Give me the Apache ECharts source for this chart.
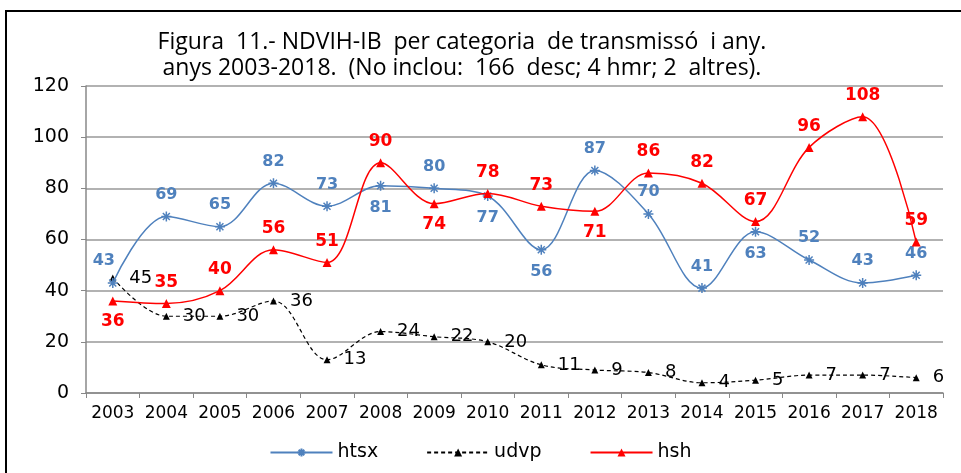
<!DOCTYPE html>
<html><head><meta charset="utf-8">
<script src="https://cdn.jsdelivr.net/npm/echarts@6/dist/echarts.min.js"></script>
<style>html,body{margin:0;padding:0;background:#fff}#c{width:961px;height:473px}</style>
</head><body><div id="c"></div>
<script>
const years = ['2003','2004','2005','2006','2007','2008','2009','2010','2011','2012','2013','2014','2015','2016','2017','2018'];
const htsx = [43,69,65,82,73,81,80,77,56,87,70,41,63,52,43,46];
const udvp = [45,30,30,36,13,24,22,20,11,9,8,4,5,7,7,6];
const hsh  = [36,35,40,56,51,90,74,78,73,71,86,82,67,96,108,59];
const htsxLabelPos = ['top','top','top','top','top','bottom','top','bottom','bottom','top','top','top','bottom','top','top','top'];
const hshLabelPos  = ['bottom','top','top','top','top','top','bottom','top','top','bottom','top','top','top','top','top','top'];
const yTicks = {min:0, max:120, interval:20};

const BLUE = '#4F81BD', RED = '#FF0000';
function mk(vals, pos, extra) {
  return vals.map((v, i) => {
    const d = {value: v, label: {position: pos[i]}};
    if (extra && extra[i]) Object.assign(d.label, extra[i]);
    return d;
  });
}
const htsxExtra = {0: {offset: [-9, 0]}};
const chart = echarts.init(document.getElementById('c'));
chart.setOption({
  animation: false,
  graphic: [{type:'rect', shape:{x:6,y:11,width:1000,height:1000}, style:{fill:'none', stroke:'#000', lineWidth:2}, z:-1}],
  title: {
    text: 'Figura  11.- NDVIH-IB  per categoria  de transmissó  i any.\nanys 2003-2018.  (No inclou:  166  desc; 4 hmr; 2  altres).',
    left: 457, top: 24, textAlign: 'center',
    textStyle: {fontFamily: 'Open Sans', fontSize: 23, fontWeight: 'normal', color: '#000', lineHeight: 26}
  },
  legend: {
    bottom: 6, left: 'center', itemGap: 48, itemWidth: 62, itemHeight: 10,
    textStyle: {fontFamily: 'DejaVu Sans', fontSize: 19, color: '#000'},
    data: ['htsx','udvp','hsh']
  },
  grid: {left: 86, right: 18, top: 86, bottom: 80},
  xAxis: {
    type: 'category', data: years, boundaryGap: true,
    axisLine: {lineStyle: {color: '#888', width: 1.5}},
    axisTick: {show: true, alignWithLabel: false, interval: 0, length: 5, lineStyle: {color: '#888'}},
    axisLabel: {interval: 0, hideOverlap: false, fontFamily: 'DejaVu Sans', fontSize: 17, color: '#000', margin: 12}
  },
  yAxis: {
    type: 'value', min: yTicks.min, max: yTicks.max, interval: yTicks.interval,
    axisLine: {show: true, lineStyle: {color: '#888', width: 1.5}},
    axisTick: {show: true, length: 5, lineStyle: {color: '#888'}},
    splitLine: {lineStyle: {color: '#999', width: 1.5}},
    axisLabel: {fontFamily: 'DejaVu Sans', fontSize: 19, color: '#000', margin: 17}
  },
  series: [
    {
      name: 'htsx', type: 'line', smooth: 0.35, data: mk(htsx, htsxLabelPos, htsxExtra),
      symbol: 'path://M5,0L5,10M0,5L10,5M1.5,1.5L8.5,8.5M8.5,1.5L1.5,8.5', symbolSize: 10,
      lineStyle: {color: BLUE, width: 1.5},
      itemStyle: {color: BLUE, borderColor: BLUE, borderWidth: 1.5},
      label: {show: true, fontFamily: 'DejaVu Sans', fontWeight: 'bold', fontSize: 16, color: BLUE, distance: 8},
      z: 3
    },
    {
      name: 'udvp', type: 'line', smooth: 0.35, data: udvp,
      symbol: 'triangle', symbolSize: 7,
      lineStyle: {color: '#000', width: 1.2, type: [4, 3]},
      itemStyle: {color: '#000'},
      label: {show: true, position: 'right', fontFamily: 'DejaVu Sans', fontSize: 18, color: '#000', distance: 13},
      z: 2
    },
    {
      name: 'hsh', type: 'line', smooth: 0.35, data: mk(hsh, hshLabelPos),
      symbol: 'triangle', symbolSize: 9,
      lineStyle: {color: RED, width: 1.5},
      itemStyle: {color: RED},
      label: {show: true, fontFamily: 'DejaVu Sans', fontWeight: 'bold', fontSize: 17, color: RED, distance: 8},
      z: 4
    }
  ]
});
</script></body></html>
